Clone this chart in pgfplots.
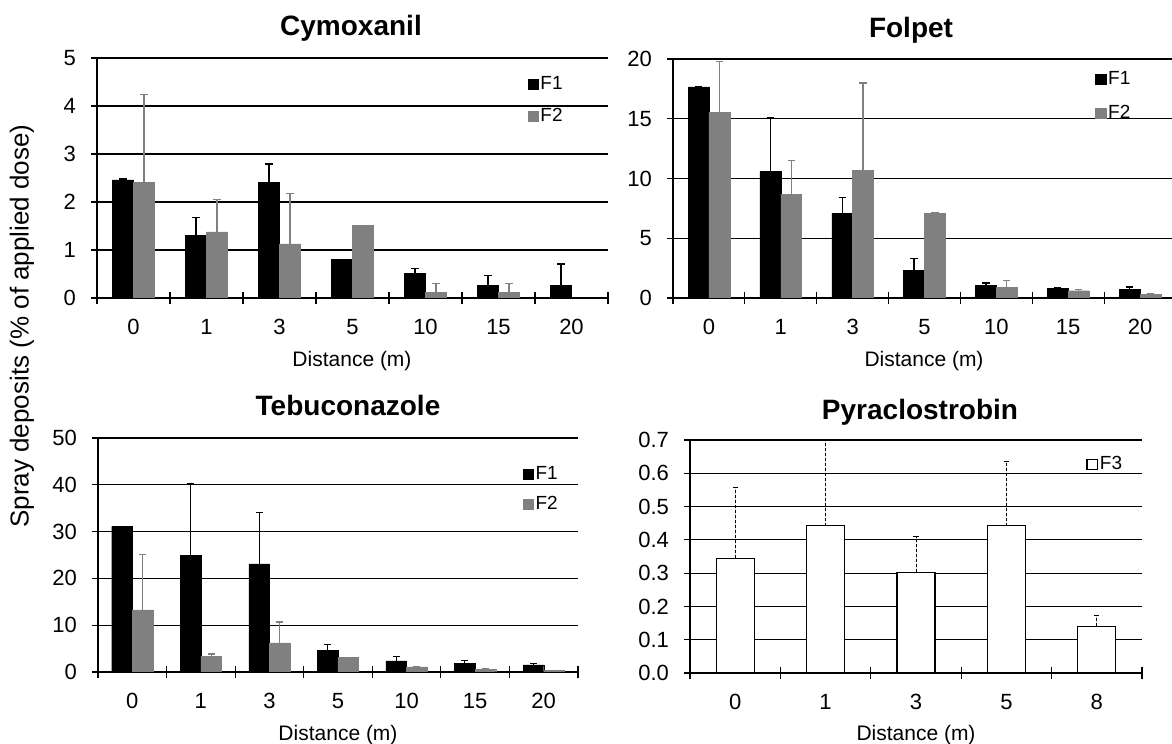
\documentclass[border=0pt]{standalone}
\usepackage{fontspec}
\setmainfont{Liberation Sans}
\usepackage{pgfplots}
\pgfplotsset{compat=1.18}
\definecolor{fgray}{RGB}{128,128,128}

\pgfplotsset{
 sq legend/.style={legend image code/.code={\draw[##1] (-2bp,-2.6bp) rectangle (3.2bp,2.6bp);}},
 panel/.style={
  scale only axis,
  anchor=south west,
  axis lines=left,
  axis line style={-, line width=0.6bp},
  ybar=0pt,
  xmin=-0.5, xmax=6.5,
  xtick={-0.5,0.5,...,6.5},
  xticklabels={},
  extra x ticks={0,1,...,6},
  extra x tick labels={0,1,3,5,10,15,20},
  extra x tick style={major tick length=0pt, xticklabel style={yshift=-7bp}},
  major tick length=6bp,
  tick align=center,
  tick style={black, line width=0.6bp},
  ymajorgrids,
  grid style={black, line width=0.6bp},
  ymin=0,
  tick label style={font=\fontsize{11bp}{12bp}\selectfont},
  /pgf/number format/assume math mode=true,
  yticklabel style={xshift=-4bp},
  legend style={draw=none, fill=none, font=\fontsize{9.5bp}{10bp}\selectfont, anchor=north west, row sep=6bp, inner sep=0pt, nodes={inner sep=1bp}},
  legend cell align=left,
  every axis plot post/.append style={sq legend},
 },
 f1/.style={fill=black, draw=black, line width=0.2bp,
   error bars/.cd, y dir=plus, y explicit,
   error bar style={black, line width=0.6bp},
   error mark options={black, rotate=90, mark size=1.8bp, line width=0.6bp}},
 f2/.style={fill=fgray, draw=fgray, line width=0.2bp,
   error bars/.cd, y dir=plus, y explicit,
   error bar style={fgray, line width=0.6bp},
   error mark options={fgray, rotate=90, mark size=1.8bp, line width=0.6bp}},
}

\begin{document}
\begin{tikzpicture}
\useasboundingbox (0,0) rectangle (586bp,372bp);

% Cymoxanil
\begin{axis}[panel, at={(48.5bp,223bp)}, width=255.5bp, height=120bp,
  ymax=5, ytick={0,1,...,5}, bar width=0.29,
  legend style={at={(0.842,0.935)}}]
\addplot[f1] table[x=x,y=y,y error=e]{
x y e
0 2.46 0.02
1 1.30 0.38
2 2.41 0.38
3 0.80 0
4 0.51 0.11
5 0.26 0.21
6 0.26 0.45
};
\addplot[f2] table[x=x,y=y,y error=e]{
x y e
0 2.41 1.83
1 1.38 0.68
2 1.13 1.05
3 1.51 0
4 0.12 0.19
5 0.12 0.19
};
\legend{F1,F2}
\end{axis}

% Folpet
\begin{axis}[panel, at={(336.5bp,223bp)}, width=251.5bp, height=119.5bp,
  ymax=20, ytick={0,5,...,20}, bar width=0.29,
  legend style={at={(0.839,0.96)}, row sep=7bp}]
\addplot[f1] table[x=x,y=y,y error=e]{
x y e
0 17.66 0
1 10.60 4.46
2 7.11 1.31
3 2.29 1.00
4 1.06 0.20
5 0.81 0.03
6 0.70 0.22
};
\addplot[f2] table[x=x,y=y,y error=e]{
x y e
0 15.54 4.26
1 8.70 2.79
2 10.71 7.28
3 7.11 0
4 0.92 0.56
5 0.61 0.08
6 0.28 0.12
};
\legend{F1,F2}
\end{axis}

% Tebuconazole
\begin{axis}[panel, at={(49bp,36bp)}, width=240bp, height=117bp,
  ymax=50, ytick={0,10,...,50}, bar width=0.3,
  legend style={at={(0.884,0.89)}, row sep=5bp}]
\addplot[f1] table[x=x,y=y,y error=e]{
x y e
0 31.1 0
1 24.9 15.4
2 23.1 10.9
3 4.7 1.1
4 2.4 0.9
5 1.9 0.5
6 1.5 0.3
};
\addplot[f2] table[x=x,y=y,y error=e]{
x y e
0 13.3 11.8
1 3.35 0.5
2 6.2 4.5
3 3.06 0
4 1.07 0
5 0.5 0.3
6 0.36 0
};
\legend{F1,F2}
\end{axis}

% Pyraclostrobin
\begin{axis}[panel, at={(345bp,35.5bp)}, width=226bp, height=116.5bp,
  xmin=-0.5, xmax=4.5, xtick={-0.5,0.5,...,4.5},
  extra x ticks={0,1,...,4}, extra x tick labels={0,1,3,5,8},
  ymax=0.7, ytick={0,0.1,...,0.7}, bar width=0.42,
  yticklabel style={/pgf/number format/.cd, fixed, fixed zerofill, precision=1},
  legend style={at={(0.876,0.94)}}]
\addplot[fill=white, draw=black, line width=0.6bp,
   error bars/.cd, y dir=plus, y explicit,
   error bar style={black, line width=0.5bp, dash pattern=on 1.5bp off 1bp},
   error mark options={black, solid, rotate=90, mark size=1.3bp, line width=0.5bp}]
 table[x=x,y=y,y error=e]{
x y e
0 0.345 0.213
1 0.442 0.257
2 0.302 0.108
3 0.442 0.194
4 0.140 0.033
};
\legend{F3}
\end{axis}

% titles
\node[font=\bfseries\fontsize{14bp}{16bp}\selectfont] at (175.5bp,358bp) {Cymoxanil};
\node[font=\bfseries\fontsize{14bp}{16bp}\selectfont] at (455.5bp,357bp) {Folpet};
\node[font=\bfseries\fontsize{14bp}{16bp}\selectfont] at (174bp,169.5bp) {Tebuconazole};
\node[font=\bfseries\fontsize{14bp}{16bp}\selectfont] at (460bp,166bp) {Pyraclostrobin};
% axis labels
\node[font=\fontsize{10.5bp}{12bp}\selectfont] at (176bp,191.5bp) {Distance (m)};
\node[font=\fontsize{10.5bp}{12bp}\selectfont] at (462bp,191.5bp) {Distance (m)};
\node[font=\fontsize{10.5bp}{12bp}\selectfont] at (169bp,4.5bp) {Distance (m)};
\node[font=\fontsize{10.5bp}{12bp}\selectfont] at (458bp,4.5bp) {Distance (m)};
\node[font=\fontsize{13bp}{15bp}\selectfont, rotate=90] at (11bp,209bp) {Spray deposits (\% of applied dose)};
\end{tikzpicture}
\end{document}
